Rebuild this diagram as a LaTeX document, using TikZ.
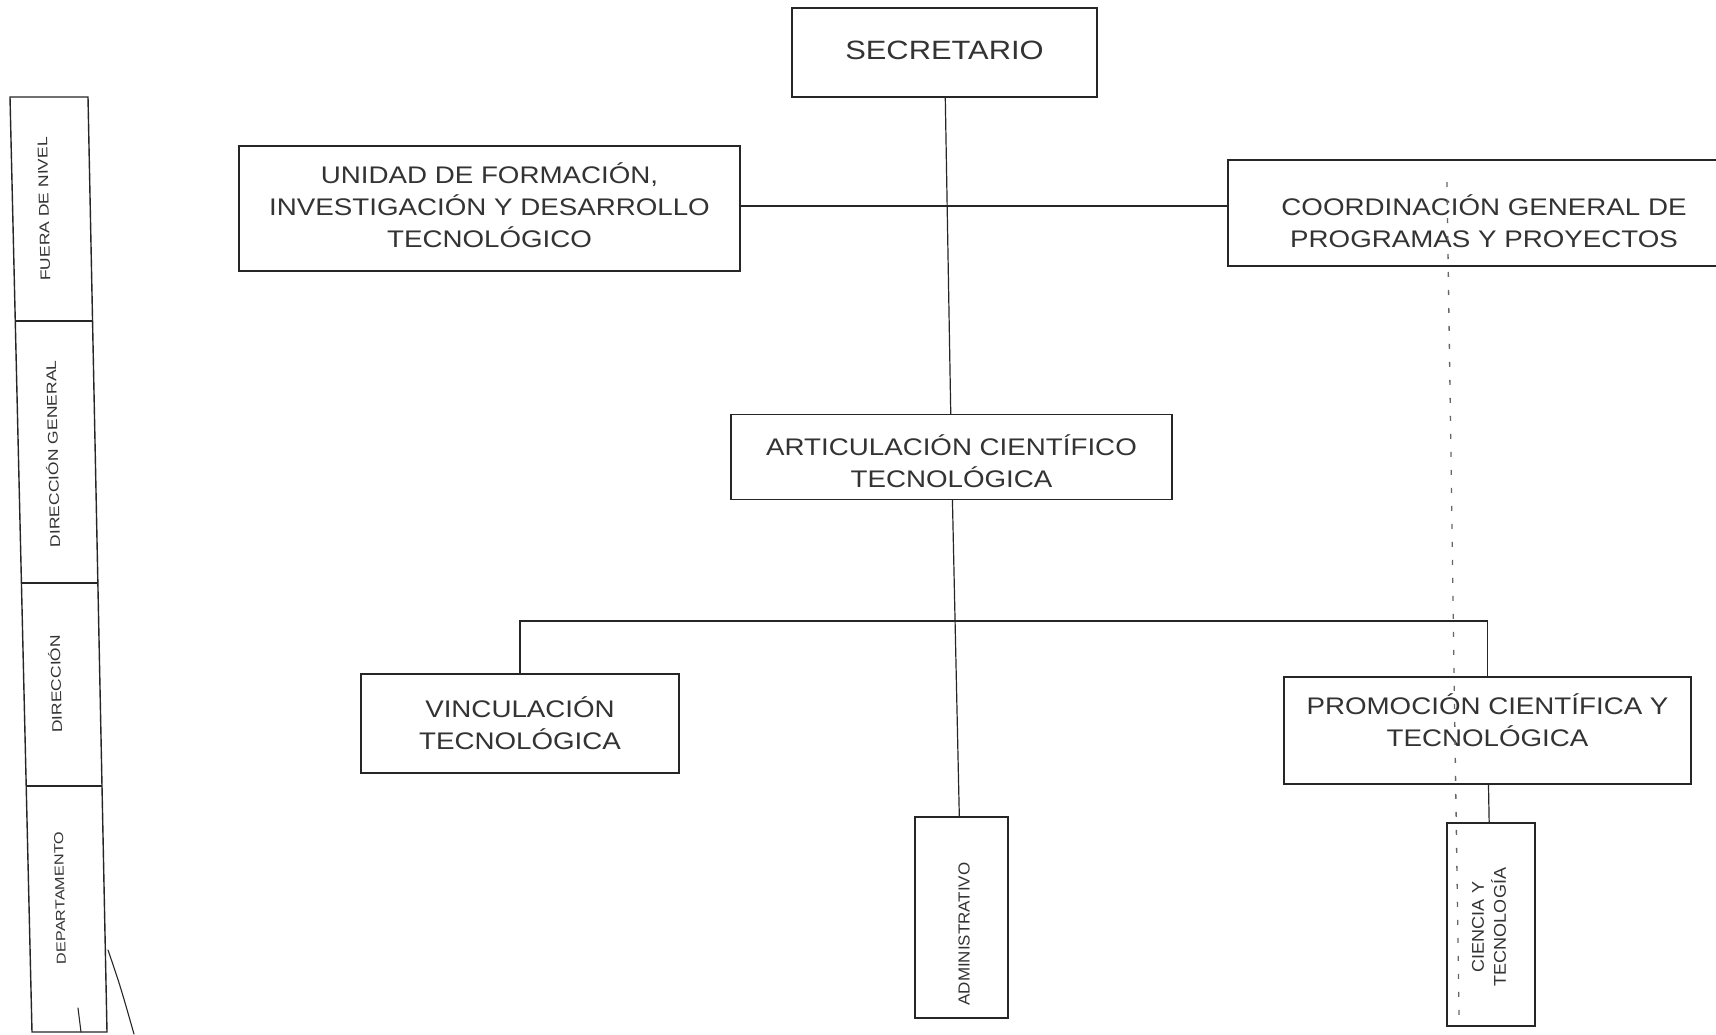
\documentclass[tikz,border=0pt]{standalone}
\usepackage{fontspec}
\setmainfont{Liberation Sans}
\newfontfamily\bigf[FakeStretch=1.155]{Liberation Sans}
\newfontfamily\secf[FakeStretch=1.165]{Liberation Sans}
\newfontfamily\smf[FakeStretch=1.06]{Liberation Sans}
\newfontfamily\colf[FakeStretch=1.25]{Liberation Sans}
\begin{document}
\begin{tikzpicture}[x=1pt,y=-1pt,
  box/.style={draw=black!85, line width=1.4pt, inner sep=0pt},
  bigtxt/.style={font={\bigf\fontsize{24}{32}\selectfont}, text=black!80, align=center, inner sep=0pt},
  smtxt/.style={font={\smf\fontsize{17}{22}\selectfont}, text=black!80, align=center, inner sep=0pt},
  coltxt/.style={font={\colf\fontsize{14}{16}\selectfont}, text=black!80, inner sep=0pt, rotate=91.3},
  link/.style={draw=black!85, line width=1.2pt},
  dashlink/.style={draw=black!60, line width=1.3pt, dash pattern=on 5pt off 13pt},
  strayline/.style={draw=black!85, line width=1.1pt, line cap=round}
]
\useasboundingbox (0,0) rectangle (1716,1034);
\fill[white] (0,0) rectangle (1716,1034);
\clip (0,0) rectangle (1716,1034);

% ---- level legend column (slightly skewed, as scanned) ----
\coordinate (ctl) at (10,97);
\coordinate (ctr) at (88,97);
\coordinate (cbr) at (107,1032);
\coordinate (cbl) at (32,1032);
\draw[black!85, line width=1.4pt] (ctl) -- (ctr) -- (cbr) -- (cbl) -- cycle;
\draw[black!85, line width=1.1pt] (15.3,321) -- (92.6,321);
\draw[black!85, line width=1.1pt] (21.4,583) -- (97.9,583);
\draw[black!85, line width=1.1pt] (26.2,786) -- (102.0,786);
\node[coltxt] (l1) at (44,209) {FUERA DE NIVEL};
\node[coltxt] (l2) at (52,454) {DIRECCIÓN GENERAL};
\node[coltxt] (l3) at (55,684) {DIRECCIÓN};
\node[coltxt, font={\colf\fontsize{13}{16}\selectfont}] (l4) at (60,898) {DEPARTAMENTO};
\draw[strayline] (108,950) .. controls (120,985) .. (134,1034);
\draw[strayline] (78,1008) -- (81,1032);

% ---- boxes ----
\node[box, minimum width=305pt, minimum height=89pt] (sec) at (944.5,52.5) {};
\node[bigtxt, font={\secf\fontsize{26.5}{32}\selectfont}] (sect) at ([yshift=2pt]sec.center) {SECRETARIO};
\node[box, minimum width=501pt, minimum height=125pt] (uni) at (489.5,208.5) {};
\node[bigtxt] (unit) at ([yshift=3pt]uni.center)
  {UNIDAD DE FORMACIÓN,\\INVESTIGACIÓN Y DESARROLLO\\TECNOLÓGICO};
\node[box, minimum width=512pt, minimum height=106pt] (coord) at (1484,213) {};
\node[bigtxt] (coordt) at ([yshift=-8pt]coord.center)
  {COORDINACIÓN GENERAL DE\\PROGRAMAS Y PROYECTOS};
\node[box, minimum width=441pt, minimum height=85pt] (art) at (951.5,457) {};
\node[bigtxt] (artt) at ([yshift=-4pt]art.center)
  {ARTICULACIÓN CIENTÍFICO\\TECNOLÓGICA};
\node[box, minimum width=318pt, minimum height=99pt] (vin) at (520,723.5) {};
\node[bigtxt] (vint) at (vin.center) {VINCULACIÓN\\TECNOLÓGICA};
\node[box, minimum width=407pt, minimum height=107pt] (pro) at (1487.5,730.5) {};
\node[bigtxt] (prot) at ([yshift=10pt]pro.center)
  {PROMOCIÓN CIENTÍFICA Y\\TECNOLÓGICA};
\node[box, minimum width=93pt, minimum height=201pt] (adm) at (961.5,917.5) {};
\node[smtxt, rotate=90, font={\smf\fontsize{16}{22}\selectfont}] (admt) at (964,934) {ADMINISTRATIVO};
\node[box, minimum width=88pt, minimum height=203pt] (cie) at (1491,924.5) {};
\node[smtxt, rotate=90] (ciet) at (1489,927) {CIENCIA Y\\TECNOLOGÍA};

% ---- connectors ----
\coordinate (hj) at (947,206);
\coordinate (jn) at (957,621);
\draw[link] (sec) -- (art);
\draw[link] (uni.east |- hj) -- (coord.west |- hj);
\draw[link] (art) -- (adm);
\draw[link] (vin.north) |- (jn) -| (pro.north);
\draw[link] (pro) -- (cie);
\coordinate (dtop) at (1447,182);
\coordinate (dbot) at (1459,1015);
\draw[dashlink] (dtop) -- (dbot);
\end{tikzpicture}
\end{document}
